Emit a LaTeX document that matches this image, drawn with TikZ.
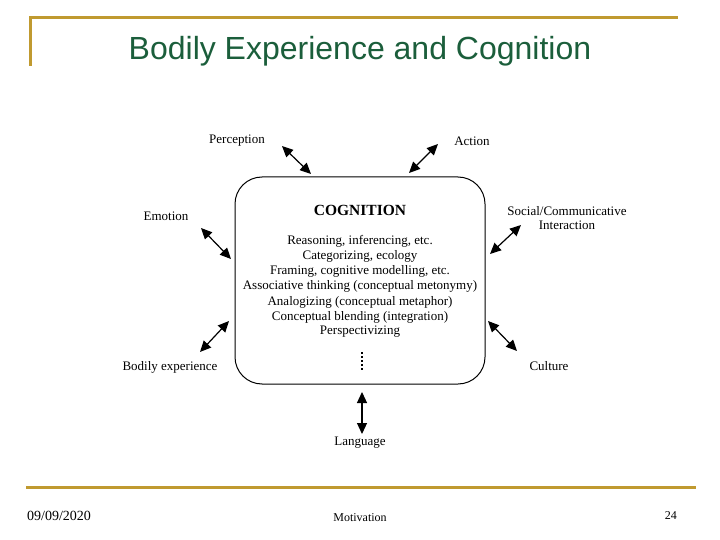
\documentclass[tikz,border=0pt]{standalone}
\usepackage{fontspec}
\setmainfont{Liberation Serif}
\newfontfamily\titlefont{Liberation Sans}
\usetikzlibrary{arrows.meta}
\definecolor{gold}{HTML}{C09A30}
\definecolor{titlegreen}{HTML}{1B5E3B}
\tikzset{
  goldline/.style={draw=gold, line width=3pt},
  lbl/.style={font=\fontsize{13}{14.5}\selectfont, inner sep=0pt, align=center},
  biarrow/.style={line width=1.2pt, {Triangle[length=11pt,width=10pt]}-{Triangle[length=11pt,width=10pt]}},
  cogbox/.style={draw, line width=1pt, rounded corners=27pt, minimum width=250pt, minimum height=207pt, inner sep=0pt},
  cogline/.style={font=\fontsize{13}{15}\selectfont, inner sep=0pt},
  foot/.style={font=\fontsize{12}{14}\selectfont, inner sep=0pt}
}
\begin{document}
\begin{tikzpicture}[x=1pt,y=-1pt]
\useasboundingbox (0,0) rectangle (720,540);
% frame lines
\coordinate (tl) at (30,18);
\coordinate (tr) at (678,18);
\coordinate (tb) at (30,66);
\coordinate (bl) at (26,487);
\coordinate (br) at (696,487);
\draw[goldline] (tb) -- (tl) -- (tr);
\draw[goldline] (bl) -- (br);
% title
\node[inner sep=0pt, text=titlegreen, font=\titlefont\fontsize{32}{36}\selectfont] (title) at (360,51) {Bodily Experience and Cognition};
% box
\node[cogbox] (box) at (360,280.5) {};
\node[font=\bfseries\fontsize{15.5}{17}\selectfont, inner sep=0pt] (cog) at (360,210) {COGNITION};
\node[cogline] (l1) at (360,241) {Reasoning, inferencing, etc.};
\node[cogline] (l2) at (360,256) {Categorizing, ecology};
\node[cogline] (l3) at (360,271) {Framing, cognitive modelling, etc.};
\node[cogline] (l4) at (360,286) {Associative thinking (conceptual metonymy)};
\node[cogline] (l5) at (360,302) {Analogizing (conceptual metaphor)};
\node[cogline] (l6) at (360,317) {Conceptual blending (integration)};
\node[cogline] (l7) at (360,332) {Perspectivizing};
\coordinate (d1) at (362,352);
\coordinate (d2) at (362,372);
\draw[line width=1.4pt, dash pattern=on 1.5pt off 2.5pt] (d1) -- (d2);
% labels
\node[lbl] (perc) at (237,141) {Perception};
\node[lbl] (act) at (472,141) {Action};
\node[lbl] (emo) at (166,216) {Emotion};
\node[lbl] (soc) at (567,218) {Social/Communicative\\Interaction};
\node[lbl] (bod) at (170,367) {Bodily experience};
\node[lbl] (cul) at (549,366) {Culture};
\node[lbl] (lang) at (360,443) {Language};
% arrow endpoints
\coordinate (pa) at (282,146); \coordinate (pb) at (311,174);
\coordinate (aa) at (438,144); \coordinate (ab) at (409,173);
\coordinate (ea) at (201,228); \coordinate (eb) at (231,259);
\coordinate (sa) at (521,225); \coordinate (sb) at (490,254);
\coordinate (ba) at (229,321); \coordinate (bb) at (200,352);
\coordinate (ca) at (488,321); \coordinate (cb) at (517,351);
\coordinate (la) at (362,392); \coordinate (lb) at (362,434);
\draw[biarrow] (pa) -- (pb);
\draw[biarrow] (aa) -- (ab);
\draw[biarrow] (ea) -- (eb);
\draw[biarrow] (sa) -- (sb);
\draw[biarrow] (ba) -- (bb);
\draw[biarrow] (ca) -- (cb);
\draw[biarrow] (la) -- (lb);
% footer
\node[font=\fontsize{14}{16}\selectfont, inner sep=0pt, anchor=west] (date) at (27,516) {09/09/2020};
\node[foot] (mot) at (360,518) {Motivation};
\node[foot, anchor=east] (num) at (677,516) {24};
\end{tikzpicture}
\end{document}
